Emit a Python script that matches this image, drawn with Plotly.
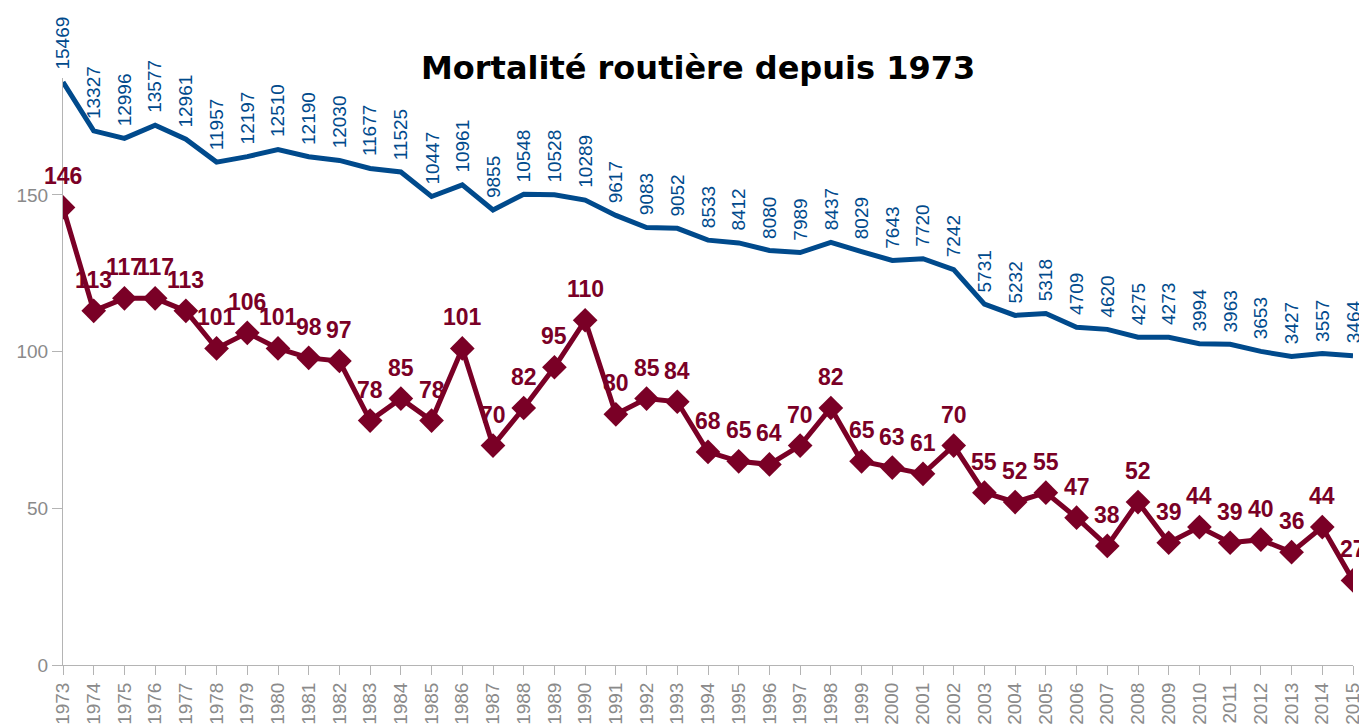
import plotly.graph_objects as go

years = list(range(1973, 2016))
year_labels = [str(y) for y in years]

# Red series (left axis)
red_values = [146, 113, 117, 117, 113, 101, 106, 101, 98, 97, 78, 85, 78, 101, 70, 82, 95, 110,
              80, 85, 84, 68, 65, 64, 70, 82, 65, 63, 61, 70, 55, 52, 55, 47, 38, 52, 39, 44,
              39, 40, 36, 44, 27]

# Blue series (hidden secondary axis)
blue_values = [15469, 13327, 12996, 13577, 12961, 11957, 12197, 12510, 12190, 12030, 11677, 11525,
               10447, 10961, 9855, 10548, 10528, 10289, 9617, 9083, 9052, 8533, 8412, 8080, 7989,
               8437, 8029, 7643, 7720, 7242, 5731, 5232, 5318, 4709, 4620, 4275, 4273, 3994, 3963,
               3653, 3427, 3557, 3464]

left_ticks = [0, 50, 100, 150]

RED = "#7a0026"
BLUE = "#004a8c"
GRAY_LINE = "#b4b4b4"
GRAY_TEXT = "#8a8a8a"
FONT = "Liberation Sans, Arial, sans-serif"

W, H = 1359, 719  # page body has an 8px margin
ML, MR, MT, MB = 55, 14, 70, 62

fig = go.Figure()

fig.add_trace(go.Scatter(
    x=years, y=blue_values, yaxis="y2", mode="lines",
    line=dict(color=BLUE, width=5), hoverinfo="x+y", showlegend=False))

fig.add_trace(go.Scatter(
    x=years, y=red_values, yaxis="y", mode="lines+markers",
    line=dict(color=RED, width=5),
    marker=dict(symbol="diamond", size=19, color=RED),
    hoverinfo="x+y", showlegend=False))

annotations = []
for yr, v in zip(years, blue_values):
    annotations.append(dict(
        x=yr, y=v, xref="x", yref="y2", text=str(v), showarrow=False,
        textangle=-90, xanchor="center", yanchor="bottom", yshift=10,
        font=dict(family=FONT, size=19, color=BLUE)))
for yr, v in zip(years, red_values):
    annotations.append(dict(
        x=yr, y=v, xref="x", yref="y", text="<b>%d</b>" % v, showarrow=False,
        xanchor="center", yanchor="bottom", yshift=16,
        font=dict(family=FONT, size=23, color=RED)))

plot_h = H - MT - MB
plot_w = W - ML - MR
title_x_px, title_y_px = 698 - 8, 68 - 8
annotations.append(dict(
    x=(title_x_px - ML) / plot_w, y=(H - MB - title_y_px) / plot_h,
    xref="paper", yref="paper",
    text="<b>Mortalité routière depuis 1973</b>", showarrow=False,
    xanchor="center", yanchor="middle",
    font=dict(family="DejaVu Sans, sans-serif", size=32, color="black")))

fig.update_layout(
    width=W, height=H,
    margin=dict(l=ML, r=MR, t=MT, b=MB, autoexpand=False),
    paper_bgcolor="white", plot_bgcolor="white",
    annotations=annotations,
    xaxis=dict(
        range=[1973, 2015], tickvals=years, ticktext=year_labels,
        tickangle=-90, ticks="outside", ticklen=9, tickcolor=GRAY_LINE,
        showline=True, linecolor=GRAY_LINE, linewidth=1,
        showgrid=False, zeroline=False, automargin=False,
        tickfont=dict(family=FONT, size=19, color=GRAY_TEXT)),
    yaxis=dict(
        range=[0, 187.3], tickvals=left_ticks, ticks="outside", ticklen=10,
        tickcolor=GRAY_LINE, showline=True, linecolor=GRAY_LINE, linewidth=1,
        showgrid=False, zeroline=False, automargin=False,
        tickfont=dict(family=FONT, size=19, color=GRAY_TEXT)),
    yaxis2=dict(
        overlaying="y", side="right", range=[-10101, 15645],
        visible=False, showgrid=False, zeroline=False),
)

fig.write_html("out.html")
